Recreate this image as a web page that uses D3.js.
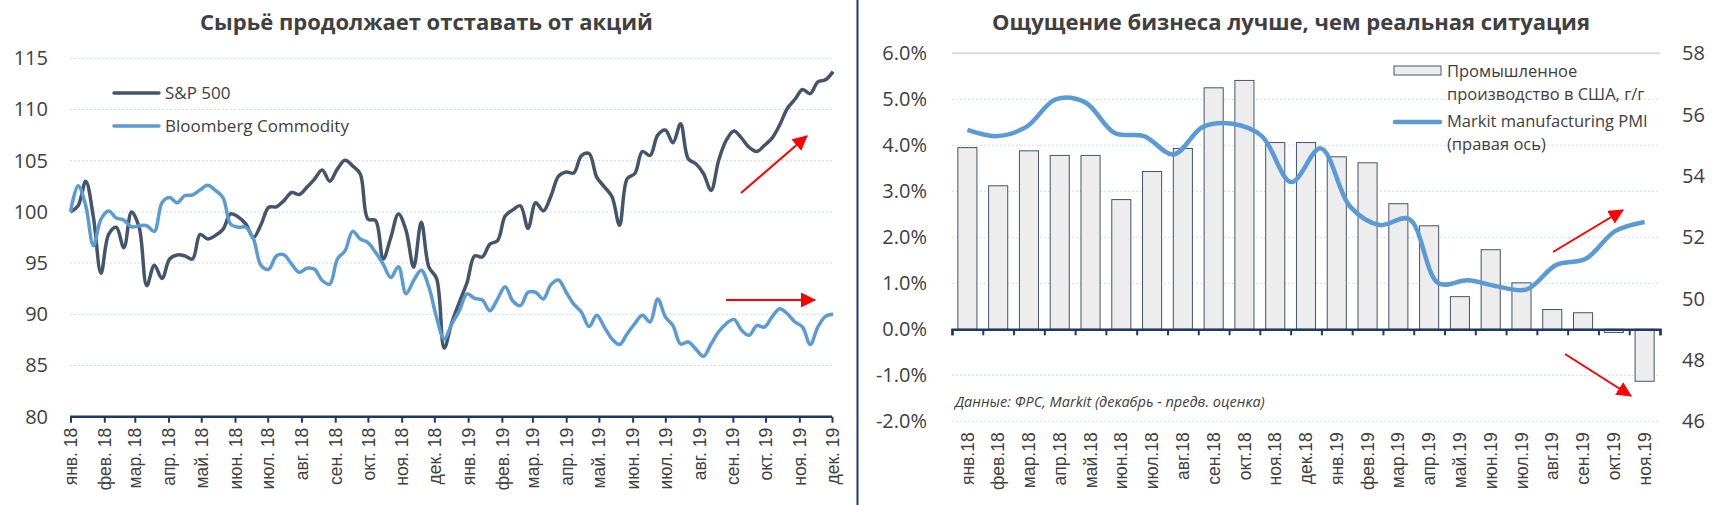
<!DOCTYPE html>
<html>
<head>
<meta charset="UTF-8">
<title>Сырьё и PMI</title>
<script src="https://d3js.org/d3.v7.min.js"></script>
<style>
  body { margin: 0; background: #fff; }
  svg text { font-family: "Open Sans", "DejaVu Sans", sans-serif; fill: #404040; }
  svg .cat text { font-family: "Liberation Sans", Arial, sans-serif; }
</style>
</head>
<body>
<div id="chart"></div>
<script>
// ---- left chart data (weekly index, 01.01.2018 = 100) ----
const spxValues = [100.0, 100.6, 103.0, 99.5, 94.0, 97.8, 98.5, 96.5, 100.0, 98.5,
  92.8, 94.8, 93.5, 95.4, 95.8, 95.7, 95.4, 97.8, 97.35, 97.7,
  98.3, 99.8, 99.5, 98.8, 97.5, 98.8, 100.45, 100.5, 101.1, 101.9,
  101.7, 102.4, 103.2, 104.1, 103.0, 104.2, 105.05, 104.5, 103.7, 99.3,
  99.15, 95.4, 97.5, 99.8, 98.2, 94.6, 99.0, 94.6, 93.5, 86.7,
  89.2, 91.2, 93.1, 95.7, 95.6, 96.85, 97.2, 99.6, 100.2, 100.6,
  98.4, 100.9, 100.1, 101.55, 103.5, 103.9, 103.8, 105.5, 105.7, 103.4,
  102.45, 101.5, 98.7, 103.25, 103.75, 105.9, 105.5, 107.5, 108.0, 106.75,
  108.6, 105.2, 104.7, 103.75, 102.1, 105.05, 107.0, 107.9, 107.2, 106.3,
  105.9, 106.5, 107.2, 108.5, 110.1, 111.0, 111.95, 111.55, 112.7, 112.9, 113.7];
const bcomValues = [100.0, 102.55, 100.6, 96.7, 99.3, 100.1, 99.4, 99.2, 98.55, 98.65,
  98.65, 98.1, 100.9, 101.4, 100.9, 101.6, 101.65, 102.15, 102.6, 102.1,
  101.4, 98.8, 98.5, 98.5, 97.35, 94.75, 94.4, 95.7, 95.8, 94.9,
  94.1, 94.5, 94.4, 93.3, 92.95, 95.4, 96.2, 98.1, 97.35, 97.0,
  96.05, 94.9, 93.6, 94.65, 92.0, 93.3, 94.3, 92.65, 89.7, 87.6,
  89.05, 90.35, 92.0, 91.55, 91.4, 90.35, 91.5, 92.7, 91.3, 90.85,
  92.15, 92.15, 91.5, 92.9, 93.35, 92.15, 91.0, 90.2, 88.8, 89.9,
  88.75, 87.6, 87.05, 88.1, 89.1, 89.9, 89.25, 91.5, 89.75, 88.9,
  87.1, 87.3, 86.6, 85.9, 87.1, 88.3, 89.1, 89.5, 88.45, 87.95,
  88.9, 88.75, 89.75, 90.55, 90.05, 89.25, 88.75, 87.05, 88.75, 89.8, 90.0];
const leftMonthLabels = ["янв. 18", "фев. 18", "мар. 18", "апр. 18", "май. 18", "июн. 18",
  "июл. 18", "авг. 18", "сен. 18", "окт. 18", "ноя. 18", "дек. 18",
  "янв. 19", "фев. 19", "мар. 19", "апр. 19", "май. 19", "июн. 19",
  "июл. 19", "авг. 19", "сен. 19", "окт. 19", "ноя. 19", "дек. 19"];
const leftTicks = [80, 85, 90, 95, 100, 105, 110, 115];

// ---- right chart data ----
const ipMonths = ["янв.18", "фев.18", "мар.18", "апр.18", "май.18", "июн.18", "июл.18",
  "авг.18", "сен.18", "окт.18", "ноя.18", "дек.18", "янв.19", "фев.19", "мар.19",
  "апр.19", "май.19", "июн.19", "июл.19", "авг.19", "сен.19", "окт.19", "ноя.19"];
const ipValues = [3.95, 3.12, 3.88, 3.78, 3.78, 2.82, 3.43, 3.93, 5.25, 5.41, 4.06, 4.06,
  3.75, 3.62, 2.73, 2.25, 0.71, 1.73, 1.01, 0.43, 0.36, -0.07, -1.13];
const pmiValues = [55.5, 55.3, 55.6, 56.5, 56.4, 55.4, 55.3, 54.7, 55.6, 55.7, 55.3, 53.8,
  54.9, 53.0, 52.4, 52.6, 50.5, 50.6, 50.4, 50.3, 51.1, 51.3, 52.2, 52.5];
const ipTicks = [-2, -1, 0, 1, 2, 3, 4, 5, 6];
const pmiTicks = [46, 48, 50, 52, 54, 56, 58];

const W = 1716, H = 505;
const navy = "#1F3864", grid = "#D3DCEA";

const svg = d3.select("#chart").append("svg")
  .attr("width", W).attr("height", H);

const defs = svg.append("defs");
defs.append("marker")
  .attr("id", "arrow")
  .attr("viewBox", "0 0 15 15")
  .attr("refX", 14).attr("refY", 7.5)
  .attr("markerWidth", 15).attr("markerHeight", 15)
  .attr("markerUnits", "userSpaceOnUse")
  .attr("orient", "auto")
  .append("path")
  .attr("d", "M0,0L15,7.5L0,15Z")
  .attr("fill", "#FF0000");

function arrow(x1, y1, x2, y2) {
  svg.append("line")
    .attr("x1", x1).attr("y1", y1).attr("x2", x2).attr("y2", y2)
    .attr("stroke", "#FF0000").attr("stroke-width", 2)
    .attr("marker-end", "url(#arrow)");
}

// ================= LEFT CHART =================
const start = new Date(2018, 0, 1);
const weeks = spxValues.map((d, i) => d3.timeDay.offset(start, 7 * i));
const months = d3.timeMonth.range(start, new Date(2019, 11, 2));

const xL = d3.scaleTime()
  .domain([start, new Date(2019, 11, 1)])
  .range([70.5, 832]);
const yL = d3.scaleLinear().domain([80, 115]).range([416.7, 58.3]);

svg.append("text")
  .attr("x", 426.5).attr("y", 30)
  .attr("text-anchor", "middle")
  .style("font-size", "22px").style("font-weight", "bold")
  .text("Сырьё продолжает отставать от акций");

svg.append("g").selectAll("line")
  .data(leftTicks.filter(d => d > 80))
  .join("line")
  .attr("x1", 70).attr("x2", 832)
  .attr("y1", d => yL(d)).attr("y2", d => yL(d))
  .attr("stroke", grid).attr("stroke-width", 1)
  .attr("stroke-dasharray", "2,2");

const yAxisL = svg.append("g")
  .attr("transform", "translate(70,0)")
  .call(d3.axisLeft(yL).tickValues(leftTicks).tickSize(0).tickPadding(22));
yAxisL.select(".domain").remove();
yAxisL.selectAll("text").style("font-size", "20px").attr("fill", "#404040");

const xAxisL = svg.append("g")
  .attr("class", "cat")
  .attr("transform", "translate(0," + yL(80) + ")")
  .call(d3.axisBottom(xL).tickValues(months).tickSize(6)
    .tickFormat((d, i) => leftMonthLabels[i]));
xAxisL.select(".domain")
  .attr("d", "M70," + 0 + "H832")
  .attr("stroke", navy).attr("stroke-width", 2.5);
xAxisL.selectAll(".tick line").attr("stroke", navy).attr("stroke-width", 2);
xAxisL.selectAll(".tick text")
  .style("font-size", "17.5px")
  .attr("fill", "#404040")
  .attr("text-anchor", "end")
  .attr("transform", "rotate(-90)")
  .attr("x", -11).attr("y", 0).attr("dy", "0.35em");

const lineL = d3.line()
  .x((d, i) => xL(weeks[i]))
  .y(d => yL(d))
  .curve(d3.curveCatmullRom.alpha(0.5));

svg.append("path").datum(spxValues)
  .attr("d", lineL).attr("fill", "none")
  .attr("stroke", "#44546A").attr("stroke-width", 3.5)
  .attr("stroke-linejoin", "round");
svg.append("path").datum(bcomValues)
  .attr("d", lineL).attr("fill", "none")
  .attr("stroke", "#5B9BD5").attr("stroke-width", 3.5)
  .attr("stroke-linejoin", "round");

const legL = [
  { name: "S&P 500", color: "#44546A", y: 93 },
  { name: "Bloomberg Commodity", color: "#5B9BD5", y: 126 }
];
const lg = svg.append("g").selectAll("g").data(legL).join("g");
lg.append("line")
  .attr("x1", 114).attr("x2", 159)
  .attr("y1", d => d.y).attr("y2", d => d.y)
  .attr("stroke", d => d.color).attr("stroke-width", 3.5)
  .attr("stroke-linecap", "round");
lg.append("text")
  .attr("x", 165).attr("y", d => d.y).attr("dy", "0.35em")
  .style("font-size", "17px")
  .text(d => d.name);

arrow(741, 193, 807, 136);
arrow(726, 300, 815, 300);

// divider
svg.append("line")
  .attr("x1", 857.5).attr("x2", 857.5).attr("y1", 0).attr("y2", H)
  .attr("stroke", navy).attr("stroke-width", 2);

// ================= RIGHT CHART =================
const xR = d3.scaleBand().domain(ipMonths).range([952, 1660])
  .paddingInner(0.38).paddingOuter(0.19);
const yR = d3.scaleLinear().domain([-2, 6]).range([421.3, 53.3]);
const yP = d3.scaleLinear().domain([46, 58]).range([421.3, 53.3]);
const xEdge = d3.scaleLinear().domain([0, ipMonths.length]).range([952, 1660]);
const xP = d3.scalePoint().domain(d3.range(pmiValues.length))
  .range([xR(ipMonths[0]) + xR.bandwidth() / 2,
          xR(ipMonths[ipMonths.length - 1]) + xR.bandwidth() / 2]);

svg.append("text")
  .attr("x", 1291).attr("y", 30)
  .attr("text-anchor", "middle")
  .style("font-size", "22px").style("font-weight", "bold")
  .text("Ощущение бизнеса лучше, чем реальная ситуация");

svg.append("g").selectAll("line")
  .data(ipTicks.filter(d => d !== 0))
  .join("line")
  .attr("x1", 952).attr("x2", 1660)
  .attr("y1", d => yR(d)).attr("y2", d => yR(d))
  .attr("stroke", d => d === 6 ? "#D9D9D9" : grid)
  .attr("stroke-width", d => d === 6 ? 2 : 1)
  .attr("stroke-dasharray", d => d === 6 ? null : "2,2");

const yAxisR1 = svg.append("g")
  .attr("transform", "translate(952,0)")
  .call(d3.axisLeft(yR).tickValues(ipTicks).tickSize(0).tickPadding(25)
    .tickFormat(d => d.toFixed(1) + "%"));
yAxisR1.select(".domain").remove();
yAxisR1.selectAll("text").style("font-size", "20px").attr("fill", "#404040");

const yAxisR2 = svg.append("g")
  .attr("transform", "translate(1660,0)")
  .call(d3.axisRight(yP).tickValues(pmiTicks).tickSize(0).tickPadding(22));
yAxisR2.select(".domain").remove();
yAxisR2.selectAll("text").style("font-size", "20px").attr("fill", "#404040");

svg.append("g").selectAll("rect")
  .data(ipValues)
  .join("rect")
  .attr("x", (d, i) => xR(ipMonths[i]))
  .attr("width", xR.bandwidth())
  .attr("y", d => yR(Math.max(0, d)))
  .attr("height", d => Math.abs(yR(d) - yR(0)))
  .attr("fill", "#EDEDED")
  .attr("stroke", "#44546A").attr("stroke-width", 1);

// category axis at zero with ticks on band edges
const edgeAxis = svg.append("g")
  .attr("transform", "translate(0," + yR(0) + ")")
  .call(d3.axisBottom(xEdge).tickValues(d3.range(ipMonths.length + 1))
    .tickSize(6).tickFormat(""));
edgeAxis.select(".domain").attr("stroke", navy).attr("stroke-width", 2.5);
edgeAxis.selectAll(".tick line").attr("stroke", navy).attr("stroke-width", 2);

const catAxis = svg.append("g")
  .attr("class", "cat")
  .attr("transform", "translate(0," + yR(-2) + ")")
  .call(d3.axisBottom(xR).tickSize(0));
catAxis.select(".domain").remove();
catAxis.selectAll(".tick text")
  .style("font-size", "17.5px")
  .attr("fill", "#404040")
  .attr("text-anchor", "end")
  .attr("transform", "rotate(-90)")
  .attr("x", -11).attr("y", 0).attr("dy", "0.35em");

const lineP = d3.line()
  .x((d, i) => xP(i))
  .y(d => yP(d))
  .curve(d3.curveCatmullRom.alpha(0.5));
svg.append("path").datum(pmiValues)
  .attr("d", lineP).attr("fill", "none")
  .attr("stroke", "#5B9BD5").attr("stroke-width", 4.5)
  .attr("stroke-linejoin", "round");

// legend right
svg.append("rect")
  .attr("x", 1394).attr("y", 66).attr("width", 47).attr("height", 9)
  .attr("fill", "#EDEDED").attr("stroke", "#44546A").attr("stroke-width", 1);
svg.append("line")
  .attr("x1", 1395).attr("x2", 1440).attr("y1", 122).attr("y2", 122)
  .attr("stroke", "#5B9BD5").attr("stroke-width", 4.5)
  .attr("stroke-linecap", "round");
const legR = [
  { t: "Промышленное", y: 77 },
  { t: "производство в США, г/г", y: 100 },
  { t: "Markit manufacturing PMI", y: 127 },
  { t: "(правая ось)", y: 150 }
];
svg.append("g").selectAll("text").data(legR).join("text")
  .attr("x", 1447).attr("y", d => d.y)
  .style("font-size", "16.5px")
  .text(d => d.t);

svg.append("text")
  .attr("x", 955).attr("y", 407)
  .style("font-size", "14.5px").style("font-style", "italic")
  .text("Данные: ФРС, Markit (декабрь - предв. оценка)");

arrow(1553, 252, 1623, 210);
arrow(1565, 354, 1631, 396);
</script>
</body>
</html>
